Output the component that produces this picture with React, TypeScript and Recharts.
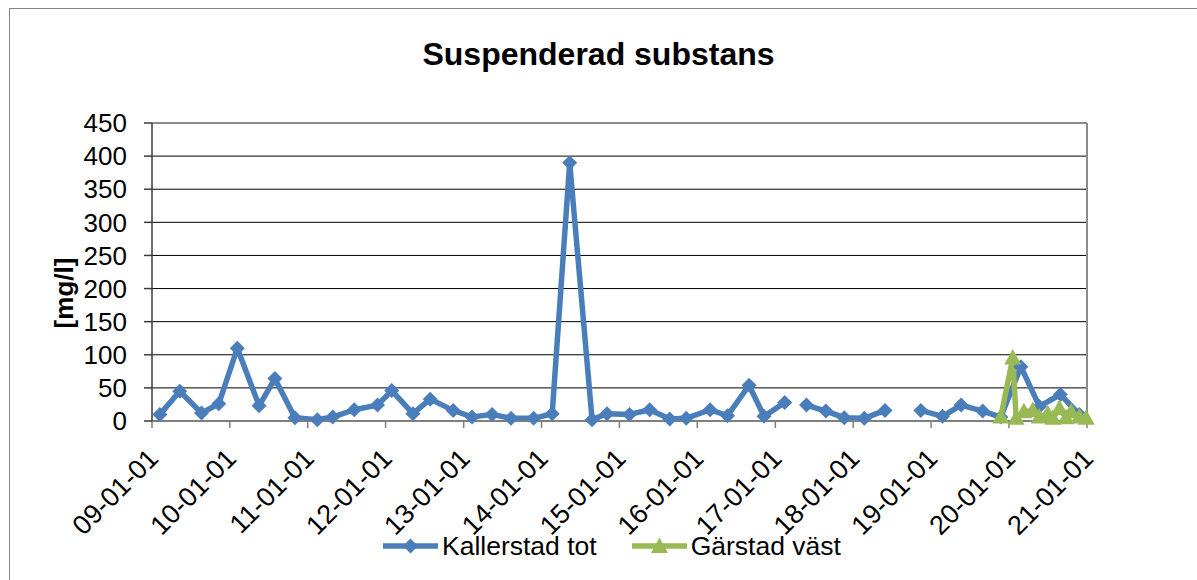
import { LineChart, Line, XAxis, YAxis, CartesianGrid, Legend, ReferenceLine } from 'recharts';

// Färger (Excel 2007-standard för serie 1 och 3).
const BLA = '#4A7EBB';
const GRON = '#98B954';
const FONT = '"Liberation Sans", Arial, sans-serif';

// Kallerstad tot – provtagningsdatum och halt [mg/l]; null = avbrott i linjen.
const kallerstadDatum = [
  '2009-02-07', '2009-05-11', '2009-08-21', '2009-11-10', '2010-02-05', '2010-05-18',
  '2010-07-31', '2010-11-02', '2011-02-15', '2011-04-28', '2011-08-07', '2011-11-24',
  '2012-01-30', '2012-05-08', '2012-07-28', '2012-11-13', '2013-02-09', '2013-05-14',
  '2013-08-11', '2013-11-25', '2014-02-20', '2014-05-13', '2014-08-26', '2014-11-04',
  '2015-02-17', '2015-05-23', '2015-08-25', '2015-11-10', '2016-03-01', '2016-05-22',
  '2016-08-31', '2016-11-09', '2017-02-14', '2017-04-01', '2017-05-27', '2017-08-26',
  '2017-11-20', '2018-02-22', '2018-05-30', '2018-08-15', '2018-11-14', '2019-02-24',
  '2019-05-22', '2019-08-31', '2019-11-24', '2020-02-26', '2020-05-23', '2020-08-29',
  '2020-11-26',
];
const kallerstadVarden: (number | null)[] = [
  10, 45, 12, 26, 110, 23,
  64, 5, 2, 6, 17, 24,
  46, 11, 33, 16, 6, 10,
  4, 4, 11, 390, 2, 11,
  10, 17, 3, 4, 17, 8,
  54, 7, 28, null, 24, 15,
  5, 4, 16, null, 16, 7,
  24, 15, 6, 82, 22, 40,
  10,
];

// Gärstad väst
const garstadDatum = [
  '2019-11-24', '2020-01-19', '2020-02-04', '2020-03-11', '2020-04-22', '2020-05-22',
  '2020-07-01', '2020-07-25', '2020-08-25', '2020-09-25', '2020-10-19', '2020-11-26',
  '2020-12-28',
];
const garstadVarden = [6, 95, 4, 14, 16, 6, 11, 4, 19, 5, 14, 6, 4];

// Axlar
const tickAr = [2009, 2010, 2011, 2012, 2013, 2014, 2015, 2016, 2017, 2018, 2019, 2020, 2021];
const tickEtiketter = ['09-01-01', '10-01-01', '11-01-01', '12-01-01', '13-01-01', '14-01-01', '15-01-01',
  '16-01-01', '17-01-01', '18-01-01', '19-01-01', '20-01-01', '21-01-01'];
const yTicks = [0, 50, 100, 150, 200, 250, 300, 350, 400, 450];

const kallerstad = kallerstadDatum.map((d, i) => ({ t: Date.parse(d), v: kallerstadVarden[i] }));
const garstad = garstadDatum.map((d, i) => ({ t: Date.parse(d), v: garstadVarden[i] }));
const xTicks = tickAr.map((y) => Date.UTC(y, 0, 1));
const xMin = xTicks[0];
const xMax = xTicks[xTicks.length - 1];

function etikett(t: number): string {
  const i = xTicks.indexOf(t);
  return i >= 0 ? tickEtiketter[i] : '';
}

function Romb(props: any) {
  const { cx, cy, value, index } = props;
  if (cx == null || cy == null || value == null) return <g key={index} />;
  const r = 7.5;
  return <polygon key={index} points={`${cx},${cy - r} ${cx + r},${cy} ${cx},${cy + r} ${cx - r},${cy}`} fill={BLA} />;
}

function Triangel(props: any) {
  const { cx, cy, value, index } = props;
  if (cx == null || cy == null || value == null) return <g key={index} />;
  return <polygon key={index} points={`${cx},${cy - 9} ${cx + 8.5},${cy + 6.5} ${cx - 8.5},${cy + 6.5}`} fill={GRON} />;
}

function XTick(props: any) {
  const { x, y, payload } = props;
  const ax = x + 8;
  const ay = y + 32;
  return (
    <text x={ax} y={ay} textAnchor="end" fontSize={27} fontFamily={FONT} fill="#000" transform={`rotate(-45, ${ax}, ${ay})`}>
      {etikett(payload.value)}
    </text>
  );
}

function YEtikett(props: any) {
  const { viewBox } = props;
  const x = viewBox.x + 64;
  const y = viewBox.y + viewBox.height / 2 + 21;
  return (
    <text x={x} y={y} textAnchor="middle" dominantBaseline="central" fontSize={26} fontWeight="bold" fontFamily={FONT} fill="#000" transform={`rotate(-90, ${x}, ${y})`}>
      [mg/l]
    </text>
  );
}

function Forklaring() {
  const post = (farg: string, namn: string, markor: 'romb' | 'triangel') => (
    <div style={{ display: 'flex', alignItems: 'center' }}>
      <svg width={58} height={20}>
        <line x1={1} y1={10} x2={56} y2={10} stroke={farg} strokeWidth={5.5} />
        {markor === 'romb' ? (
          <polygon points="28.5,2.5 36,10 28.5,17.5 21,10" fill={farg} />
        ) : (
          <polygon points="28.5,1.5 37,17 20,17" fill={farg} />
        )}
      </svg>
      <span style={{ marginLeft: 2 }}>{namn}</span>
    </div>
  );
  return (
    <div style={{ display: 'flex', gap: 34, paddingLeft: 382, fontFamily: FONT, fontSize: 26.5, color: '#000', lineHeight: '30px' }}>
      {post(BLA, 'Kallerstad tot', 'romb')}
      {post(GRON, 'Gärstad väst', 'triangel')}
    </div>
  );
}

export default function App() {
  return (
    <div style={{ position: 'absolute', left: 0, top: 0, width: 1197, height: 580, overflow: 'hidden', background: '#fff' }}>
      <div style={{ position: 'absolute', left: 9, top: 8, width: 1250, height: 650, border: '1px solid #868686' }} />
      <div
        style={{
          position: 'absolute', left: 0, top: 38, width: 1197, textAlign: 'center',
          fontFamily: FONT, fontSize: 32, fontWeight: 'bold', lineHeight: '32px', color: '#000',
        }}
      >
        Suspenderad substans
      </div>
      <LineChart width={1197} height={580} margin={{ top: 123, right: 110, left: 0, bottom: 0 }} style={{ position: 'absolute', left: 0, top: 0 }}>
        <CartesianGrid vertical={false} stroke="#000" strokeWidth={1} />
        <XAxis
          dataKey="t"
          type="number"
          domain={[xMin, xMax]}
          ticks={xTicks}
          allowDuplicatedCategory={false}
          height={159}
          tickSize={7}
          tickMargin={0}
          axisLine={{ stroke: '#7f7f7f', strokeWidth: 1.5 }}
          tickLine={{ stroke: '#7f7f7f', strokeWidth: 1.5 }}
          tick={<XTick />}
          interval={0}
        />
        <YAxis
          domain={[0, 450]}
          ticks={yTicks}
          width={152}
          tickSize={8}
          tickMargin={17}
          interval={0}
          axisLine={{ stroke: '#3a3a3a', strokeWidth: 1.5 }}
          tickLine={{ stroke: '#3a3a3a', strokeWidth: 1.5 }}
          tick={{ fontSize: 26, fontFamily: FONT, fill: '#000' }}
          label={<YEtikett />}
        />
        <ReferenceLine y={450} stroke="#8c8c8c" strokeWidth={2} />
        <ReferenceLine x={xMax} stroke="#8c8c8c" strokeWidth={2} />
        <Legend
          layout="vertical"
          align="center"
          verticalAlign="middle"
          wrapperStyle={{ top: 531, left: 0, width: 1197 }}
          content={<Forklaring />}
        />
        <Line
          data={kallerstad}
          dataKey="v"
          name="Kallerstad tot"
          stroke={BLA}
          strokeWidth={5.5}
          strokeLinejoin="round"
          dot={Romb}
          activeDot={false}
          connectNulls={false}
          isAnimationActive={false}
        />
        <Line
          data={garstad}
          dataKey="v"
          name="Gärstad väst"
          stroke={GRON}
          strokeWidth={5.5}
          strokeLinejoin="round"
          dot={Triangel}
          activeDot={false}
          isAnimationActive={false}
        />
      </LineChart>
    </div>
  );
}
